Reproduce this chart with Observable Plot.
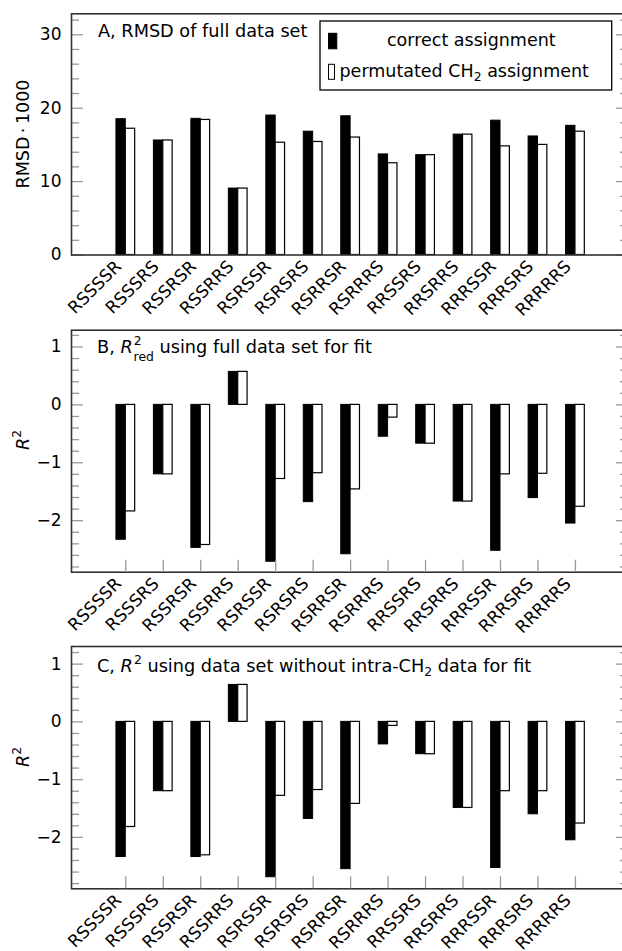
<!DOCTYPE html>
<html><head><meta charset="utf-8">
<script src="https://cdn.jsdelivr.net/npm/d3@7"></script>
<script src="https://cdn.jsdelivr.net/npm/@observablehq/plot@0.6"></script>
<style>
body{margin:0;background:#fff;}
#chart{position:relative;width:622px;height:951px;overflow:hidden;font-family:"DejaVu Sans";background:#fff;}
#chart svg{position:absolute;left:0;overflow:visible;background:transparent;}
</style></head><body><div id="chart"></div>
<script>
const categories = ["RSSSSR","RSSSRS","RSSRSR","RSSRRS","RSRSSR","RSRSRS","RSRRSR","RSRRRS","RRSSRS","RRSRRS","RRRSSR","RRRSRS","RRRRRS"];
const rmsdCorrect    = [18.5, 15.6, 18.55, 9.05, 19.0, 16.8, 18.9, 13.7, 13.6, 16.4, 18.3, 16.15, 17.6];
const rmsdPermutated = [17.2, 15.6, 18.4, 9.05, 15.3, 15.4, 16.0, 12.5, 13.6, 16.4, 14.8, 15.0, 16.8];
const r2redCorrect    = [-2.33, -1.20, -2.47, 0.57, -2.71, -1.68, -2.58, -0.55, -0.67, -1.67, -2.52, -1.61, -2.05];
const r2redPermutated = [-1.84, -1.20, -2.42, 0.57, -1.28, -1.18, -1.46, -0.22, -0.67, -1.67, -1.20, -1.19, -1.76];
const r2Correct    = [-2.34, -1.20, -2.34, 0.64, -2.69, -1.68, -2.55, -0.39, -0.56, -1.49, -2.53, -1.60, -2.05];
const r2Permutated = [-1.82, -1.20, -2.31, 0.64, -1.28, -1.18, -1.42, -0.07, -0.56, -1.49, -1.20, -1.20, -1.76];
const rmsdMajorTicks = [0, 10, 20, 30];
const rmsdMinorTicks = [2, 4, 6, 8, 12, 14, 16, 18, 22, 24, 26, 28, 32];
const r2MajorTicks = [-2, -1, 0, 1];
const r2MinorTicks = [-2.8, -2.6, -2.4, -2.2, -1.8, -1.6, -1.4, -1.2, -0.8, -0.6, -0.4, -0.2, 0.2, 0.4, 0.6, 0.8, 1.2];
const legendLabels = ["correct assignment", "permutated CH\u2082 assignment"];

const W = 622, ML = 71, MR = -6;
const xDomain = [-1.449, 13.416];
const ppx = (W - MR - ML) / (xDomain[1] - xDomain[0]);
const idx = categories.map((d, i) => i);
const FS = 17;     // tick labels
const TFS = 17.7;  // titles
const LFS = 17.5;  // legend / axis labels
const SFS = 12.4;  // sub/superscripts
const TICK = "#999";
const fmt = d => (d < 0 ? "\u2212" : "") + Math.abs(d);

function panel({top, height, marginTop, marginBottom, yDomain, correct, permutated, major, minor, xTicks}) {
  const ppy = (height - marginTop - marginBottom) / (yDomain[1] - yDomain[0]);
  const x0 = xDomain[0], x1 = xDomain[1], y0 = yDomain[0];
  const marks = [
    Plot.rect(idx, {x1: i => i - 0.25, x2: i => i, y1: 0, y2: i => correct[i], fill: "black", stroke: "black", strokeWidth: 1}),
    Plot.rect(idx, {x1: i => i, x2: i => i + 0.25, y1: 0, y2: i => permutated[i], fill: "white", stroke: "black", strokeWidth: 1.2}),
    Plot.ruleY(major, {y: d => d, x1: x0, x2: x0 + 12 / ppx, stroke: TICK, strokeWidth: 1.3}),
    Plot.ruleY(minor, {y: d => d, x1: x0, x2: x0 + 8 / ppx, stroke: TICK, strokeWidth: 1.3}),
    Plot.ruleY(major, {y: d => d, x1: x1 - 12 / ppx, x2: x1, stroke: TICK, strokeWidth: 1.3}),
    Plot.ruleY(minor, {y: d => d, x1: x1 - 8 / ppx, x2: x1, stroke: TICK, strokeWidth: 1.3}),
    Plot.axisY({ticks: major, tickSize: 0, tickPadding: 10, fontSize: FS, label: null, tickFormat: fmt}),
    Plot.text(categories, {x: (d, i) => i, frameAnchor: "bottom", rotate: -45, textAnchor: "end", lineAnchor: "top", dx: -12, dy: 4, fontSize: FS}),
    Plot.frame({stroke: "#333", strokeWidth: 1.6})
  ];
  if (xTicks) marks.push(Plot.ruleX(idx, {x: d => d, y1: y0, y2: y0 + 12 / ppy, stroke: TICK, strokeWidth: 1.3}));
  const svg = Plot.plot({
    width: W, height, marginLeft: ML, marginRight: MR, marginTop, marginBottom,
    x: {domain: xDomain, axis: null},
    y: {domain: yDomain, axis: null},
    style: {fontFamily: "DejaVu Sans", fontSize: FS + "px", background: "transparent", overflow: "visible", color: "black"},
    marks
  });
  svg.style.top = top + "px";
  document.getElementById("chart").appendChild(svg);
  return d3.select(svg);
}
function txt(sel, x, y, size, anchor = "start") {
  return sel.append("text").attr("x", x).attr("y", y).attr("font-size", size).attr("text-anchor", anchor).attr("fill", "black");
}
function ylabel(sel, x, y) {
  return sel.append("text").attr("transform", `translate(${x},${y}) rotate(-90)`).attr("text-anchor", "middle").attr("font-size", LFS).attr("fill", "black");
}

// Panel A
const a = panel({top: 0, height: 310, marginTop: 13.3, marginBottom: 55.5, yDomain: [0, 32.86],
  correct: rmsdCorrect, permutated: rmsdPermutated, major: rmsdMajorTicks, minor: rmsdMinorTicks, xTicks: false});
txt(a, 98, 37.3, TFS).text("A, RMSD of full data set");
ylabel(a, 29, 134).text("RMSD\u2009\u00b7\u20091000");
// legend
const lg = a.append("g");
lg.append("rect").attr("x", 320).attr("y", 21).attr("width", 291.7).attr("height", 69).attr("fill", "white").attr("stroke", "black").attr("stroke-width", 1.3);
lg.append("rect").attr("x", 328.5).attr("y", 33.3).attr("width", 8.3).attr("height", 15.5).attr("fill", "black").attr("stroke", "black");
lg.append("rect").attr("x", 328.5).attr("y", 64.3).attr("width", 6).attr("height", 15).attr("fill", "white").attr("stroke", "black").attr("stroke-width", 1);
txt(lg, 387, 46, LFS).text(legendLabels[0]);
const l2 = txt(lg, 339.5, 76.7, LFS);
l2.append("tspan").text("permutated CH");
l2.append("tspan").attr("font-size", SFS).attr("dy", 4).text("2");
l2.append("tspan").attr("dy", -4).text(" assignment");

// Panel B
const b = panel({top: 310, height: 310, marginTop: 19.7, marginBottom: 48.3, yDomain: [-2.89, 1.29],
  correct: r2redCorrect, permutated: r2redPermutated, major: r2MajorTicks, minor: r2MinorTicks, xTicks: true});
const bt = txt(b, 97, 43.3, TFS);
bt.append("tspan").text("B, ");
bt.append("tspan").attr("font-style", "italic").text("R");
bt.append("tspan").attr("font-size", SFS).attr("dy", -8).attr("dx", 1).text("2");
bt.append("tspan").attr("font-size", SFS).attr("dy", 16).attr("dx", -8).text("red");
bt.append("tspan").attr("dy", -8).text(" using full data set for fit");
const by = ylabel(b, 28.5, 130);
by.append("tspan").attr("font-style", "italic").text("R");
by.append("tspan").attr("font-size", SFS).attr("dy", -8).text("2");

// Panel C
const c = panel({top: 620, height: 331, marginTop: 26, marginBottom: 62.7, yDomain: [-2.89, 1.305],
  correct: r2Correct, permutated: r2Permutated, major: r2MajorTicks, minor: r2MinorTicks, xTicks: true});
const ct = txt(c, 97, 51.7, TFS);
ct.append("tspan").text("C, ");
ct.append("tspan").attr("font-style", "italic").text("R");
ct.append("tspan").attr("font-size", SFS).attr("dy", -8).attr("dx", 1).text("2");
ct.append("tspan").attr("dy", 8).text(" using data set without intra-CH");
ct.append("tspan").attr("font-size", SFS).attr("dy", 4).text("2");
ct.append("tspan").attr("dy", -4).text(" data for fit");
const cy = ylabel(c, 28.5, 137);
cy.append("tspan").attr("font-style", "italic").text("R");
cy.append("tspan").attr("font-size", SFS).attr("dy", -8).text("2");
</script></body></html>
